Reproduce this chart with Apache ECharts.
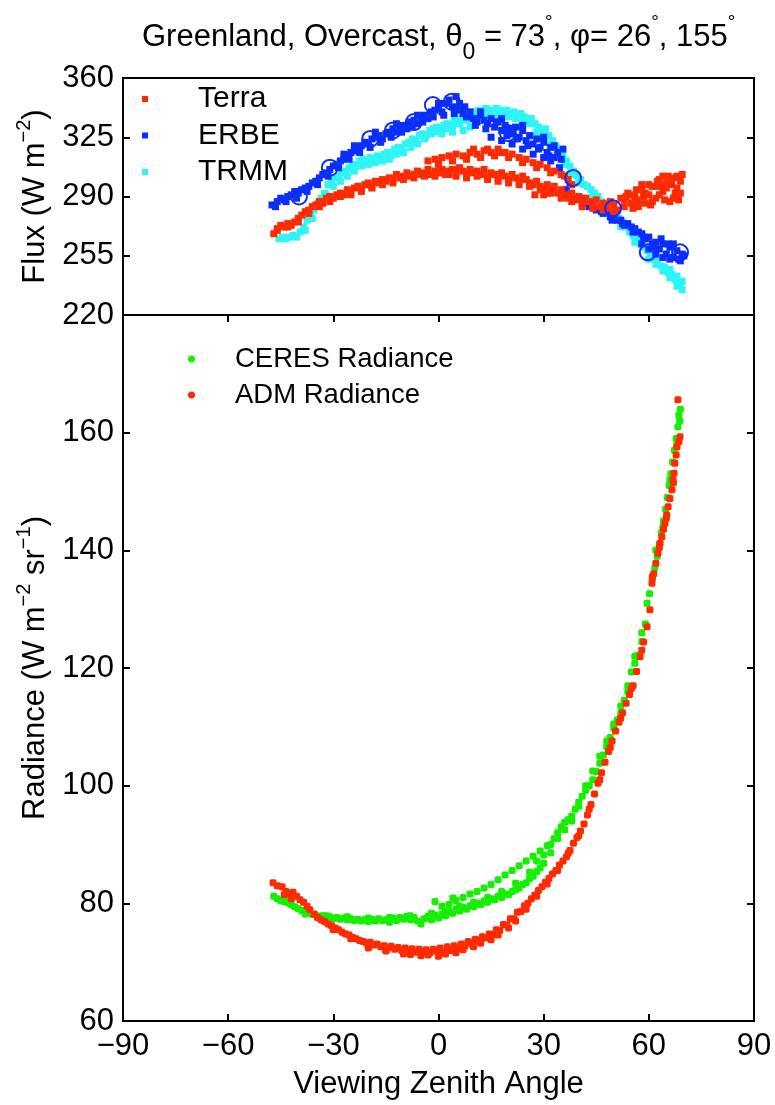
<!DOCTYPE html>
<html>
<head>
<meta charset="utf-8">
<script src="https://cdn.jsdelivr.net/npm/echarts@6/dist/echarts.min.js"></script>
<style>
html,body{margin:0;padding:0;background:#fff;}
#chart{width:775px;height:1105px;}
</style>
</head>
<body>
<div id="chart"></div>
<script>
// ---------- Data (x = viewing zenith angle, y = value) ----------
const terra = [
[-47,268],[-46,271],[-45,273],[-44,272],[-43,274],[-42,273],[-41,275],[-40,277],[-39,279],[-38,281],[-37,282],[-36,284],[-35,285],[-34,287],[-33,286],[-32,289],[-31,290],[-30,289],[-29,291],[-28,292],[-27,291],[-26,294],[-25,293],[-24,295],[-23,296],[-22,294],[-21,297],[-20,298],[-19,296],[-18,299],[-17,298],[-16,300],[-15,299],[-14,301],[-13,300],[-12,303],[-11,301],[-10,302],[-9,304],[-8,302],[-7,303],[-6,305],[-5,303],[-4,304],[-3,306],[-2,303],[-1,305],[0,304],[1,306],[2,305],[3,303],[4,306],[5,304],[6,307],[7,305],[8,303],[9,306],[10,304],[11,305],[12,303],[13,306],[14,302],[15,304],[16,303],[17,301],[18,304],[19,302],[20,300],[21,303],[22,301],[23,299],[24,302],[25,300],[26,298],[27,297],[28,299],[29,296],[30,295],[31,297],[32,294],[33,296],[34,292],[35,294],[36,291],[37,289],[38,292],[39,288],[40,290],[41,286],[42,289],[43,287],[44,285],[45,288],[46,284],[47,286],[48,283],[49,287],[50,285],[51,282],[52,289],[53,284],[54,292],[55,286],[56,290],[57,288],[58,294],[59,286],[60,291],[61,296],[62,289],[63,300],[64,293],[65,298],[66,287],[67,301],[68,295],[69,299],[69.5,303],[68.5,288],[67.5,292],[66.5,297],[65.5,302],[64.5,288],[63.5,296],[62.5,299],[60.5,285],[58.5,290],[56.5,294],[55.5,283],[53.5,290],
[27.5,291],[30,291],[31,292],
[-46,270],[-43,272],[-40,275],[-37,280],[-34,284],[-31,287],[-28,290],[-25,291],[-22,293],[-19,295],[-16,297],[-13,298],[-10,300],[-7,301],[-4,302],[-1,302],[2,303],[5,302],[8,301],[11,302],[14,300],[17,299],[20,298],[23,297],[26,296],[29,294],[32,292],[35,289],[38,287],[41,284],[44,283],[47,282],[50,281],[53,288],[55,291],[57,284],[59,292],[61,287],[63,291],[65,295],[67,289],[69,292],[66,300],[64,302],[62,296],[60,297],[58,297],[56,287],[68,302],
[-3,311],[-1,312],[1,313],[3,314],[5,315],[7,314],[9,316],[11,315],[13,317],[15,316],[17,318],[19,316],[21,315],[23,313],[25,312],[27,310],[29,309],[31,307],[33,305],[35,303],[37,300],[38,297],[36,302],
[0,309],[4,311],[8,312],[12,313],[16,314],[20,313],[24,310],[28,307],[32,304],[10,318],[14,318],[18,316]
];
const erbe = [
[-47.5,285],[-46,287],[-45,289],[-44,288],[-43,290],[-42,291],[-41,293],[-40,292],[-39,294],[-38,295],[-37,296],[-36,298],[-35,299],[-34,301],[-33,303],[-32,304],[-31,306],[-30,308],[-29,309],[-28,311],[-27,312],[-26,314],[-25,316],[-24,317],[-23,319],[-22,320],[-21,322],[-20,321],[-19,324],[-18,325],[-17,326],[-16,324],[-15,327],[-14,328],[-13,330],[-12,328],[-11,331],[-10,332],[-9,330],[-8,334],[-7,335],[-6,333],[-5,337],[-4,338],[-3,336],[-2,340],[-1,341],[0,342],[1,340],[2,345],[3,347],[4,343],[5,349],[6,341],[7,339],[8,337],[9,340],[10,336],[11,334],[12,338],[13,335],[14,333],[15,336],[16,331],[17,334],[18,329],[19,332],[20,330],[21,327],[22,331],[23,325],[24,329],[25,323],[26,326],[27,321],[28,324],[29,319],[30,322],[31,316],[32,319],[33,313],[34,316],[35,312],[35.5,318],
[15,325],[18,323],[21,321],[24,318],[27,315],[30,313],[32,311],
[36.5,294],[38,291],[39.5,289],[41,286],[42,287],[43,284],[44,285],[45,282],[46,283],[47,280],[48,281],[49,278],[50,279],[51,276],[52,276],[53,273],[54,274],[55,272],[56,271],[57,269],[58,268],[59,265],[60,266],[61,262],[62,263],[63,259],[64,262],[65,256],[66,260],[67,254],[68,258],[69,252],[69.5,256],[62,256],[64,254],[66,253],[60,259],[58,262],[67,262],[70,255],
[-46.5,284],[-43.5,287],[-40.5,289],[-37.5,293],[-34.5,297],[-31.5,302],[-28.5,307],[-25.5,312],[-22.5,316],[-19.5,319],[-16.5,322],[-13.5,325],[-10.5,328],[-7.5,331],[-4.5,334],[-1.5,337],[1.5,338],[4.5,339],[7.5,343],[10.5,332],[13.5,330],[16.5,334],[19.5,326],[22.5,324],[25.5,320],[28.5,318],[31.5,314],[34.5,307],[37.5,297],[40.5,289],[43.5,286],[46.5,281],[49.5,276],[52.5,274],[55.5,269],[58.5,266],[61.5,260],[63.5,265],[65.5,262],[68.5,253],
[-27,315],[-24,320],[-18,328],[-12,333],[-6,338],[0,345],[6,345],[12,340],[18,336],[24,332],[30,325],[33,320]
];
const erbeCircles = [
[-39.8,290],[-31,307],[-19.5,324],[-13,329],[-7,334],[-1.6,344],[3.8,346],[19.8,327.5],[38.4,301],[49.8,283],[59.7,257],[68.9,257]
];
const trmm = [
[-45.5,265],[-44.5,266],[-43.5,265],[-42.5,266],[-41.5,267],[-40.5,266],[-39.5,269],[-38.5,272],[-37.5,276],[-36.5,279],[-35.5,282],[-34.5,286],[-33.5,289],[-32.5,292],[-31.5,297],[-30.5,299],[-29.5,301],[-28.5,302],[-27.5,304],[-26.5,305],[-25.5,307],[-24.5,308],[-23.5,309],[-22.5,311],[-21.5,312],[-20.5,311],[-19.5,313],[-18.5,312],[-17.5,314],[-16.5,313],[-15.5,315],[-14.5,316],[-13.5,314],[-12.5,318],[-11.5,319],[-10.5,318],[-9.5,321],[-8.5,322],[-7.5,324],[-6.5,323],[-5.5,326],[-4.5,327],[-3.5,326],[-2.5,329],[-1.5,330],[-0.5,331],[0.5,330],[1.5,332],[2.5,333],[3.5,332],[4.5,335],[5.5,334],[6.5,336],[7.5,337],[8.5,339],[9.5,338],[10.5,340],[11.5,341],[12.5,340],[13.5,342],[14.5,341],[15.5,340],[16.5,342],[17.5,341],[18.5,340],[19.5,341],[20.5,339],[21.5,340],[22.5,338],[23.5,339],[24.5,337],[25.5,335],[26.5,336],[27.5,333],[28.5,331],[29.5,329],[30.5,330],[31.5,326],[32.5,323],[33.5,320],[34.5,317],[35.5,314],[36.5,311],[37.5,308],[38.5,305],[39.5,302],[40.5,300],[41.5,297],[42.5,296],[43.5,294],[44.5,292],[45.5,290],[46.5,287],[47.5,285],[48.5,283],[49.5,281],[50.5,279],[51.5,277],[52.5,275],[53.5,272],[54.5,269],[55.5,267],[56.5,265],[57.5,262],[58.5,260],[59.5,258],[60.5,256],[61.5,253],[62.5,252],[63.5,249],[64.5,248],[65.5,245],[66.5,244],[67.5,241],[68.5,239],[69.5,235],[69,238],[68,243],[66,247],
[1,327],[4,328],[7,329],[9,331],
[-38,270],[-36,277],[-34,284],[-32,291],[-30,296],[-28,299],[-26,302],[-24,305],[-22,308],[-20,309],[-18,310],[-16,311],[-14,312],[-12,315],[-10,316],[-8,319],[-6,321],[-4,324],[-2,327],[0,328],[2,330],[4,331],[6,333],[8,335],[10,337],[12,338],[14,338],[16,338],[18,338],[20,337],[22,336],[24,335],[26,333],[28,328],[30,326],[32,321],[34,314],[36,309],[38,303],[40,298],[44,290],[48,281],[52,272],[56,263],[60,253],[62,250],[64,246],[66,242],[68,237],[69.5,240]
];
const ceres = [
[-47,81.2],[-46,80.8],[-45,80.5],[-44,80.3],[-43,80.1],[-42,79.8],[-41,79.4],[-40,79.1],[-39,78.8],[-38,78.6],[-37,78.3],[-36,78.1],[-35,78],[-34,77.8],[-33,77.9],[-32,77.6],[-31,77.7],[-30,77.4],[-29,77.6],[-28,77.3],[-27,77.5],[-26,77.2],[-25,77.4],[-24,77.1],[-23,77.3],[-22,77],[-21,77.2],[-20,76.9],[-19,77.3],[-18,77],[-17,77.4],[-16,77.1],[-15,77.2],[-14,76.8],[-13,77.5],[-12,77.1],[-11,77.6],[-10,77.3],[-9,77.8],[-8,77.2],[-7,77.6],[-6,77],[-5,76.5],[-4,77.4],[-3,77.8],[-2,77.2],[-1,78],[0,77.5],[1,78.2],[2,77.9],[3,78.6],[4,78.3],[5,79],[6,78.7],[7,79.3],[8,79],[9,79.6],[10,79.4],[11,80],[12,79.8],[13,80.4],[14,80.2],[15,80.8],[16,80.6],[17,81.2],[18,81],[19,81.6],[20,81.5],[21,82],[22,82.3],[23,82.6],[24,83.2],[25,83.5],[26,84.2],[27,84.6],[28,85.4],[29,86],[30,86.8],
[-1,80.3],[1,79.5],[3,79.8],[4.1,80.9],[5,80.5],[7,81],[9,81.6],[11,82],[13,82.6],[15,83.2],[17,84],[19,84.8],[21,85.6],[23,86.4],[25,87.2],[27,88],[29,88.9],[31,89.8],
[32,90],[33,91],[34,92],[35,93],[36,93.8],[37,94.2],[38,94.8],[39,96],[40,97.2],[41,98.2],[42,99.2],[43,100],[44,101],[45,102.4],[46,103.8],[47,105.2],[48,106.6],[49,108.2],[50,109.8],[51,111.2],[52,112.4],[53,114.5],[54,117],[55,119.3],[56,120.8],[57,122.2],[58,124.5],[59,127.5],[59.5,131],[60.2,132.6],[61,135.2],[61.7,137],[62.4,139],[63,141],[63.6,143],[64.2,145],[64.8,147],[65.3,149],[65.8,151],[66.3,153],[66.8,155],[67.3,157],[67.8,159],[68.3,161],[68.6,163],[69,164],
[-44,80.8],[-38,78.2],[-32,77.9],[-26,77.7],[-20,77.5],[-14,77.6],[-8,77.9],[-2,78.3],[2,78.6],[6,79.5],[10,80.2],[14,81],[18,82],[22,83.4],[26,85.3],[28,87.2],[30,88.2],[32,88.6],[34,91],[36,92.5],[38,94],[40,96.5],[42,100],[44,102.5],[46,105],[48,107.6],[50,110.5],[52,113.5],[54,116],[56,122],[58,126],[62,140],[64,144],[66,152],[68,158],[68.8,162]
];
const adm = [
[-47.2,83.5],[-46,83],[-44.6,82.8],[-43.5,82],[-42.4,81.7],[-41.5,81.9],[-40.5,81.2],[-39.5,80.6],[-38.5,80.2],[-37.5,79.5],[-36.7,78.9],[-35.5,78.2],[-34.5,77.6],[-33.5,77.2],[-32.5,76.9],[-31.5,76.5],[-30.5,76.2],[-29.5,75.8],[-28.5,75.5],[-27.5,75.1],[-26.5,74.8],[-25.5,74.6],[-24.5,74.2],[-23.5,74],[-22.5,73.7],[-21.5,73.5],[-20.5,73.2],[-19.5,73.4],[-18.5,72.9],[-17.5,73.1],[-16.5,72.6],[-15.5,72.8],[-14.5,72.4],[-13.5,72.7],[-12.5,72.2],[-11.5,72.5],[-10.5,72],[-9.5,72.4],[-8.5,71.8],[-7.5,72.3],[-6.5,71.7],[-5.5,72.2],[-4.5,71.6],[-3.5,72.1],[-2.5,71.5],[-1.5,72.2],[-0.5,71.8],[0.5,72.4],[1.5,71.6],[2.5,72.6],[3.5,72],[4.5,72.8],[5.5,72.3],[6.5,73.1],[7.5,72.7],[8.5,73.5],[9.5,73.1],[10.5,73.9],[11.5,73.6],[12.5,74.3],[13.5,74.1],[14.5,74.8],[15.5,74.7],[16.5,75.5],[17.5,75.4],[18.5,76.4],[19.5,76.3],[20.5,77.4],[21.5,77.4],[22.5,78.5],[23.5,78.6],[24.5,79.6],[25.5,80],[26.5,80.8],[27.5,81.4],[28.5,82.2],[29.5,82.8],[30.5,83.6],[31.5,84.2],[32.5,85],[33.5,85.6],[34.5,86.5],[35.5,87.2],[36.5,87.9],[37.5,89],[38.5,90.2],[39.5,91.2],[40.5,92.3],[41.5,93.5],[42.5,95],[43.5,96.8],[44.5,98.6],[45.5,100.4],[46.5,102.2],[47.5,104],[48.5,105.8],[49.5,107.6],[50.5,109.3],[51.5,110.8],[52.5,112.4],[53.5,114],[54.5,115.5],[55.5,117],[56.5,119.4],[57.5,121.9],[58.5,124.4],[59.5,127],[60.3,129.9],[60.9,134.4],[61.4,136],[62,137.8],[62.6,139.5],[63.2,141.2],[63.7,142.3],[64.2,143.6],[64.6,144.6],[65.1,146],[65.5,147.4],[66,148.8],[66.6,150.3],[66.9,152],[67.2,153.1],[67.4,154.8],[67.8,156.2],[68,157.6],[68.6,158.5],[68.9,159.3],[68.3,165.6],
[-20,72.4],[-15,71.9],[-10,71.4],[-5,71.1],[0,71],[5,71.6],[10,72.6],[15,73.8],[20,75.8],[-42,80.8],[-44,81.5],
[-30,75.5],[-25,74],[-15,72],[-8,71.3],[-3,71.2],[2,71.4],[7,72.1],[12,73.2],[17,74.6],[22,77],[25,79],[28,81.2],[31,83.3],[34,85.6],[37,88.5],[40,91.5],[43,96],[46,101],[49,106.5],[52,111.5],[55,116.5],[58,123],[61,135.5],[63,140.5],[65,145.5],[67,151.5]
];
const xRange = [-90, 90, 30];
const fluxRange = [220, 360, 35];
const radRange = [60, 180, 20];

const FONT = '"Liberation Sans", Arial, Helvetica, sans-serif';
const C = { terra:'#ff2a00', erbe:'#0a2eff', trmm:'#2ef5f5', ceres:'#14f000', adm:'#ff2a00' };

const chart = echarts.init(document.getElementById('chart'), null, {renderer:'canvas'});
const tickStyle = {show:true, inside:true, length:7, lineStyle:{color:'#000', width:2}};
const noLine = {show:false, onZero:false};
const minus = v => String(v).replace('-', '\u2212');
const FS = 31;

const option = {
  animation: false,
  backgroundColor: '#fff',
  title: {
    text: 'Greenland, Overcast, \u03b8{sub|0} = 73{sup|\u00b0}, \u03c6= 26{sup|\u00b0}, 155{sup|\u00b0}',
    left: 137, top: 6,
    textStyle: {
      fontFamily: FONT, fontSize: 31, fontWeight: 'normal', color: '#000',
      rich: {
        sub: {fontFamily: FONT, fontSize: 23, padding: [30,0,0,0], color:'#000'},
        sup: {fontFamily: FONT, fontSize: 19, padding: [0,0,30,0], color:'#000'}
      }
    }
  },
  grid: [
    {left:123, top:78, width:631, height:237, show:true, borderColor:'#000', borderWidth:2},
    {left:123, top:315, width:631, height:706, show:true, borderColor:'#000', borderWidth:2}
  ],
  legend: [
    {
      data: [{name:'Terra', icon:'rect'},{name:'ERBE', icon:'rect'},{name:'TRMM', icon:'rect'}],
      orient:'vertical', left:137, top:79, itemWidth:6, itemHeight:6, itemGap:6.5,
      selectedMode:false,
      textStyle:{fontFamily:FONT, fontSize:30, color:'#000', lineHeight:30, padding:[0,0,0,45]}
    },
    {
      data: [{name:'CERES Radiance', icon:'circle'},{name:'ADM Radiance', icon:'circle'}],
      orient:'vertical', left:183, top:339, itemWidth:7, itemHeight:7, itemGap:6,
      selectedMode:false,
      textStyle:{fontFamily:FONT, fontSize:27.5, color:'#000', lineHeight:30, padding:[0,0,0,35]}
    }
  ],
  xAxis: [
    {gridIndex:0, type:'value', min:xRange[0], max:xRange[1], interval:xRange[2], position:'bottom',
     axisLine:noLine, axisTick:{show:false}, axisLabel:{show:false}, splitLine:{show:false}},
    {gridIndex:1, type:'value', min:xRange[0], max:xRange[1], interval:xRange[2], position:'bottom',
     axisLine:noLine, axisTick:tickStyle, splitLine:{show:false},
     axisLabel:{fontFamily:FONT, fontSize:FS, color:'#000', margin:10, formatter: minus},
     name:'Viewing Zenith Angle', nameLocation:'middle', nameGap:48,
     nameTextStyle:{fontFamily:FONT, fontSize:FS, color:'#000'}},
    {gridIndex:1, type:'value', min:xRange[0], max:xRange[1], interval:xRange[2], position:'top',
     axisLine:noLine, axisTick:tickStyle, axisLabel:{show:false}, splitLine:{show:false}}
  ],
  yAxis: [
    {gridIndex:0, type:'value', min:fluxRange[0], max:fluxRange[1], interval:fluxRange[2], position:'left',
     axisLine:noLine, axisTick:tickStyle, splitLine:{show:false},
     axisLabel:{fontFamily:FONT, fontSize:FS, color:'#000', margin:9},
     name:'Flux (W m{sup|\u22122})', nameLocation:'middle', nameGap:59, nameRotate:90,
     nameTextStyle:{fontFamily:FONT, fontSize:FS, color:'#000',
       rich:{sup:{fontFamily:FONT, fontSize:20, padding:[0,0,22,0], color:'#000'}}}},
    {gridIndex:0, type:'value', min:fluxRange[0], max:fluxRange[1], interval:fluxRange[2], position:'right',
     axisLine:noLine, axisTick:tickStyle, axisLabel:{show:false}, splitLine:{show:false}},
    {gridIndex:1, type:'value', min:radRange[0], max:radRange[1], interval:radRange[2], position:'left',
     axisLine:noLine, axisTick:tickStyle, splitLine:{show:false},
     axisLabel:{fontFamily:FONT, fontSize:FS, color:'#000', margin:9,
       formatter: v => v >= radRange[1] ? '' : String(v)},
     name:'Radiance (W m{sup|\u22122} sr{sup|\u22121})', nameLocation:'middle', nameGap:59, nameRotate:90,
     nameTextStyle:{fontFamily:FONT, fontSize:FS, color:'#000',
       rich:{sup:{fontFamily:FONT, fontSize:20, padding:[0,0,22,0], color:'#000'}}}},
    {gridIndex:1, type:'value', min:radRange[0], max:radRange[1], interval:radRange[2], position:'right',
     axisLine:noLine, axisTick:tickStyle, axisLabel:{show:false}, splitLine:{show:false}}
  ],
  series: [
    {name:'TRMM', type:'scatter', xAxisIndex:0, yAxisIndex:0, data:trmm, symbol:'rect', symbolSize:7,
     itemStyle:{color:C.trmm, opacity:1}},
    {name:'ERBE', type:'scatter', xAxisIndex:0, yAxisIndex:0, data:erbe, symbol:'rect', symbolSize:7,
     itemStyle:{color:C.erbe, opacity:1}},
    {name:'Terra', type:'scatter', xAxisIndex:0, yAxisIndex:0, data:terra, symbol:'rect', symbolSize:7,
     itemStyle:{color:C.terra, opacity:1}},
    {name:'ERBE obs', type:'scatter', xAxisIndex:0, yAxisIndex:0, data:erbeCircles, symbol:'circle', symbolSize:16,
     itemStyle:{color:'rgba(0,0,0,0)', borderColor:C.erbe, borderWidth:2, opacity:1}},
    {name:'CERES Radiance', type:'scatter', xAxisIndex:1, yAxisIndex:2, data:ceres, symbol:'roundRect', symbolSize:7,
     itemStyle:{color:C.ceres, opacity:1}},
    {name:'ADM Radiance', type:'scatter', xAxisIndex:1, yAxisIndex:2, data:adm, symbol:'roundRect', symbolSize:7,
     itemStyle:{color:C.adm, opacity:1}}
  ]
};
chart.setOption(option);
</script>
</body>
</html>
